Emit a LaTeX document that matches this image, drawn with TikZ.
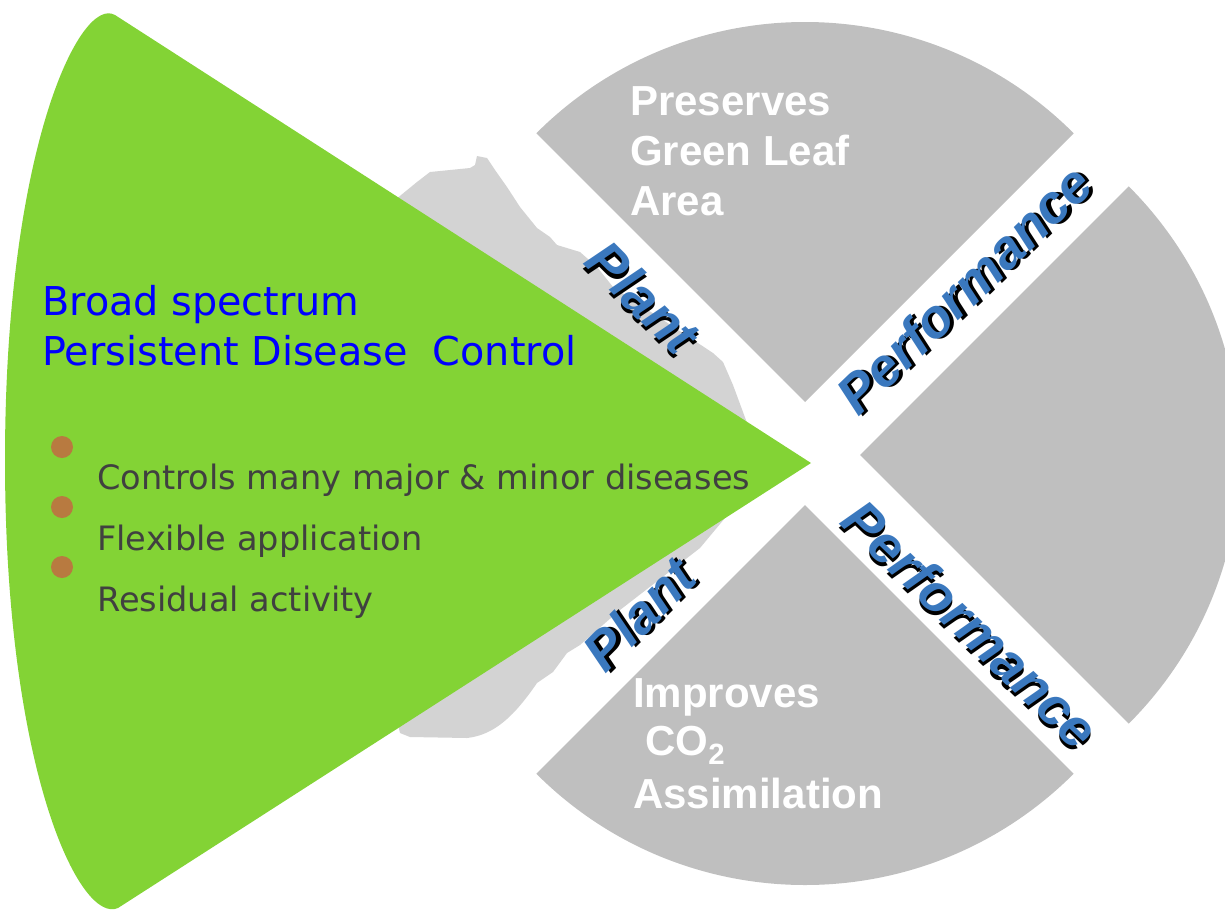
\documentclass[tikz,border=0pt]{standalone}
\usepackage{fontspec}
\newfontfamily\arialfont{Liberation Sans}
\newfontfamily\comicfont{DejaVu Sans}
\usepackage{tikz}
\usetikzlibrary{positioning}

\definecolor{leafgreen}{RGB}{131,211,53}
\definecolor{piegray}{RGB}{191,191,191}
\definecolor{backgray}{RGB}{211,211,211}
\definecolor{dotbrown}{RGB}{184,122,64}
\definecolor{itemgray}{RGB}{64,64,64}
\definecolor{perfblue}{RGB}{58,120,190}

% black copy of the word, a little right and down, under the blue one
\newcommand{\dropshadow}[1]{\makebox[0pt][l]{\hspace{2.2pt}\raisebox{-2.2pt}{\color{black}#1}}#1}

\tikzset{
  slice/.style={fill=piegray, draw=none},
  sectortext/.style={anchor=base west, inner sep=0pt, text=white,
    font=\arialfont\bfseries\fontsize{31.5}{37.5}\selectfont},
  perflabel/.style={inner sep=0pt, text=perfblue,
    font=\arialfont\bfseries\itshape\fontsize{40.5}{48}\selectfont},
  headtext/.style={anchor=base west, inner sep=0pt, text=blue,
    font=\comicfont\fontsize{29.8}{37.5}\selectfont},
  itemtext/.style={anchor=base west, inner sep=0pt, text=itemgray,
    font=\comicfont\fontsize{25.2}{30}\selectfont}
}

\begin{document}
\begin{tikzpicture}[x=0.75pt,y=0.75pt,yscale=-1,xscale=1]
\useasboundingbox (0,0) rectangle (1225,911);

%Shape: Left slice (behind the cone)
\fill[backgray] (760,458) -- (733,385) -- (723,362) -- (713,353) -- (613,287) -- (597,267) -- (580,252) -- (557,245) -- (550,237) -- (537,228) -- (520,207) -- (507,187) -- (495,170) -- (487,158) -- (477,156) -- (475,165) -- (470,168) -- (430,172) -- (417,182) -- (395,200) -- (380,300) -- (380,650) -- (400,733) -- (410,737) -- (467,738) .. controls (495,735) and (515,715) .. (537,683) -- (553,672) -- (567,653) -- (580,645) -- (620,610) -- (700,548) -- (740,500) -- cycle;

%Shape: Top slice
\fill[slice] (805,402) -- ++(225:380) arc[start angle=225, end angle=315, radius=380] -- cycle;
%Shape: Right slice
\fill[slice] (860,455) -- ++(-45:380) arc[start angle=-45, end angle=45, radius=380] -- cycle;
%Shape: Bottom slice
\fill[slice] (805,505) -- ++(45:380) arc[start angle=45, end angle=135, radius=380] -- cycle;

%Shape: Green cone
\fill[leafgreen] (811,463) -- (115,15) .. controls (80,-5) and (5,150) .. (5,460) .. controls (5,770) and (80,925) .. (118,908) -- cycle;

%Bullets
\foreach \y in {447,507,567}
  \fill[dotbrown] (62,\y) circle (11);

% Text Node
\draw (42,315) node (broad) [headtext] {Broad spectrum};
% Text Node
\draw (42,365) node (persist) [headtext] {Persistent Disease~~Control};
% Text Node
\draw (97,489) node (itemA) [itemtext] {Controls many major \& minor diseases};
% Text Node
\draw (97,550) node (itemB) [itemtext] {Flexible application};
% Text Node
\draw (97,611) node (itemC) [itemtext] {Residual activity};

% Text Node
\draw (630,115) node (pres) [sectortext] {Preserves};
% Text Node
\draw (630,165) node (green) [sectortext] {Green Leaf};
% Text Node
\draw (630,215) node (area) [sectortext] {Area};
% Text Node
\draw (633,707) node (impr) [sectortext] {Improves};
% Text Node
\draw (645,755) node (co) [sectortext] {CO\raisebox{-7pt}{\fontsize{22}{22}\selectfont 2}};
% Text Node
\draw (633,808) node (assim) [sectortext] {Assimilation};

%Band labels
\foreach \name/\x/\y/\ang/\txt in {plantup/642/298/-45/Plant, perfup/965/290/44/Performance, perfdown/970/625/-44/Performance, plantdown/640/615/45/Plant}
  \draw (\x,\y) node (\name) [perflabel, rotate=\ang] {\dropshadow{\txt}};

\end{tikzpicture}
\end{document}
